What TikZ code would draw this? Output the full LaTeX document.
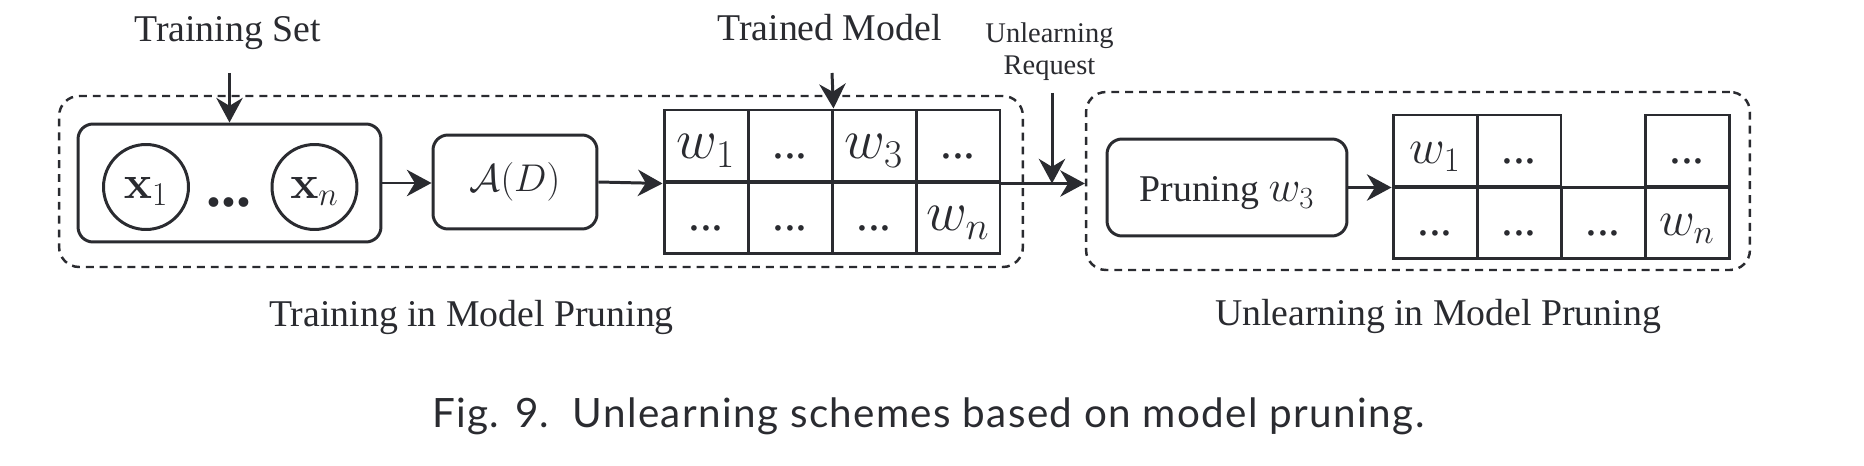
\RequirePackage{fix-cm}
\documentclass[tikz,border=0pt]{standalone}
\usepackage[no-math]{fontspec}
\setmainfont{Liberation Serif}
\newfontfamily\capfont[LetterSpace=3.4]{Lato}
\usetikzlibrary{arrows.meta}
\definecolor{ink}{RGB}{42,43,48}
\begin{document}
\begin{tikzpicture}[x=0.02cm, y=-0.02cm, color=ink,
  lab/.style={font=\fontsize{21.5}{26}\selectfont, anchor=base, inner sep=0pt},
  smalllab/.style={font=\fontsize{16.2}{19}\selectfont, anchor=base, inner sep=0pt},
  caplab/.style={font=\capfont\fontsize{23}{28}\selectfont, anchor=base west, inner sep=0pt},
  rbox/.style={draw, rounded corners=0.3cm, line width=1.7pt, inner sep=0pt},
  dbox/.style={draw, rounded corners=0.4cm, line width=1.4pt, dash pattern=on 4.5pt off 3.4pt, inner sep=0pt},
  xcirc/.style={draw, circle, minimum size=1.7cm, inner sep=0pt, line width=1.7pt,
    font=\fontsize{27}{30}\selectfont, text height=0.46cm, text depth=0pt},
  cellA/.style={draw, minimum width=1.68cm, minimum height=1.44cm, inner sep=0pt, line width=1.7pt,
    font=\fontsize{27}{30}\selectfont, text height=0.52cm, text depth=0pt},
  cellB/.style={cellA},
  bigw/.style={font=\fontsize{32}{34}\selectfont},
  midw/.style={font=\fontsize{28}{30}\selectfont},
  arr/.style={-{Stealth[length=14pt,width=15pt,inset=4.5pt]}, line width=1.7pt}]

\fill[white] (0,0) rectangle (1864,466);
\useasboundingbox (0,0) rectangle (1864,466);

% dashed regions
\node[dbox, minimum width=19.28cm, minimum height=3.42cm] (trainreg) at (541,181.5) {};
\node[dbox, minimum width=13.28cm, minimum height=3.56cm] (unreg) at (1418,181) {};

% training set
\node[rbox, minimum width=6.06cm, minimum height=2.36cm] (tset) at (229.5,183) {};
\node[xcirc] (x1) at (146,187) {$\mathbf{x}_1$};
\node[xcirc] (xn) at (314.5,187) {$\mathbf{x}_n$};
\node[anchor=base, inner sep=0pt, font=\bfseries\fontsize{34}{36}\selectfont] (xdots) at (229,207) {...};

% algorithm
\node[rbox, minimum width=3.28cm, minimum height=1.88cm, font=\fontsize{22}{26}\selectfont] (ad) at (515,182) {$\mathcal{A}(D)$};

% trained model grid
\node[cellA, bigw] (g11) at (706,146) {$w_1$};
\node[cellA] (g12) at (790,146) {...};
\node[cellA, bigw] (g13) at (874,146) {$w_3$};
\node[cellA] (g14) at (958,146) {...};
\node[cellA] (g21) at (706,218) {...};
\node[cellA] (g22) at (790,218) {...};
\node[cellA] (g23) at (874,218) {...};
\node[cellA, bigw] (g24) at (958,218) {$w_n$};

% pruning
\node[rbox, minimum width=4.8cm, minimum height=1.94cm, font=\fontsize{21.5}{26}\selectfont,
  text height=0.58cm, text depth=0pt] (prune) at (1227,187.5)
  {Pruning {\fontsize{25}{26}\selectfont$w_3$}\hspace{0.28cm}};

% pruned grid
\node[cellB, midw] (h11) at (1435,151) {$w_1$};
\node[cellB] (h12) at (1519,151) {...};
\node[cellB] (h14) at (1687,151) {...};
\node[cellB] (h21) at (1435,223) {...};
\node[cellB] (h22) at (1519,223) {...};
\node[cellB] (h23) at (1603,223) {...};
\node[cellB, midw] (h24) at (1687,223) {$w_n$};

% labels
\node[lab] (tsl) at (227.5,41.6) {Training Set};
\node[lab] (tml) at (829.5,41) {Trained Model};
\node[smalllab] (url1) at (1049.5,43) {Unlearning};
\node[smalllab] (url2) at (1049.5,75) {Request};
\node[lab] (tmp) at (471.5,326) {Training in Model Pruning};
\node[lab] (ump) at (1438,325) {Unlearning in Model Pruning};
\node[caplab] (cap) at (432,427) {Fig. 9.\ \ Unlearning schemes based on model pruning.};

% connectors
\coordinate (tsa) at (229.5,73);
\coordinate (tma) at (832,73);
\coordinate (ura) at (1052,93);
\draw[arr] (tsa) -- (tset.north);
\draw[arr] (tset.east) -- (tset.east -| ad.west);
\draw[arr] (ad.east) -- (g11.south west);
\draw[arr] (tma) -- (g12.north east);
\draw[arr] (g14.south east) -- (g14.south east -| unreg.west);
\draw[arr] (ura) -- (ura |- g14.south east);
\draw[arr] (prune.east) -- (prune.east -| h21.north west);
\end{tikzpicture}
\end{document}
